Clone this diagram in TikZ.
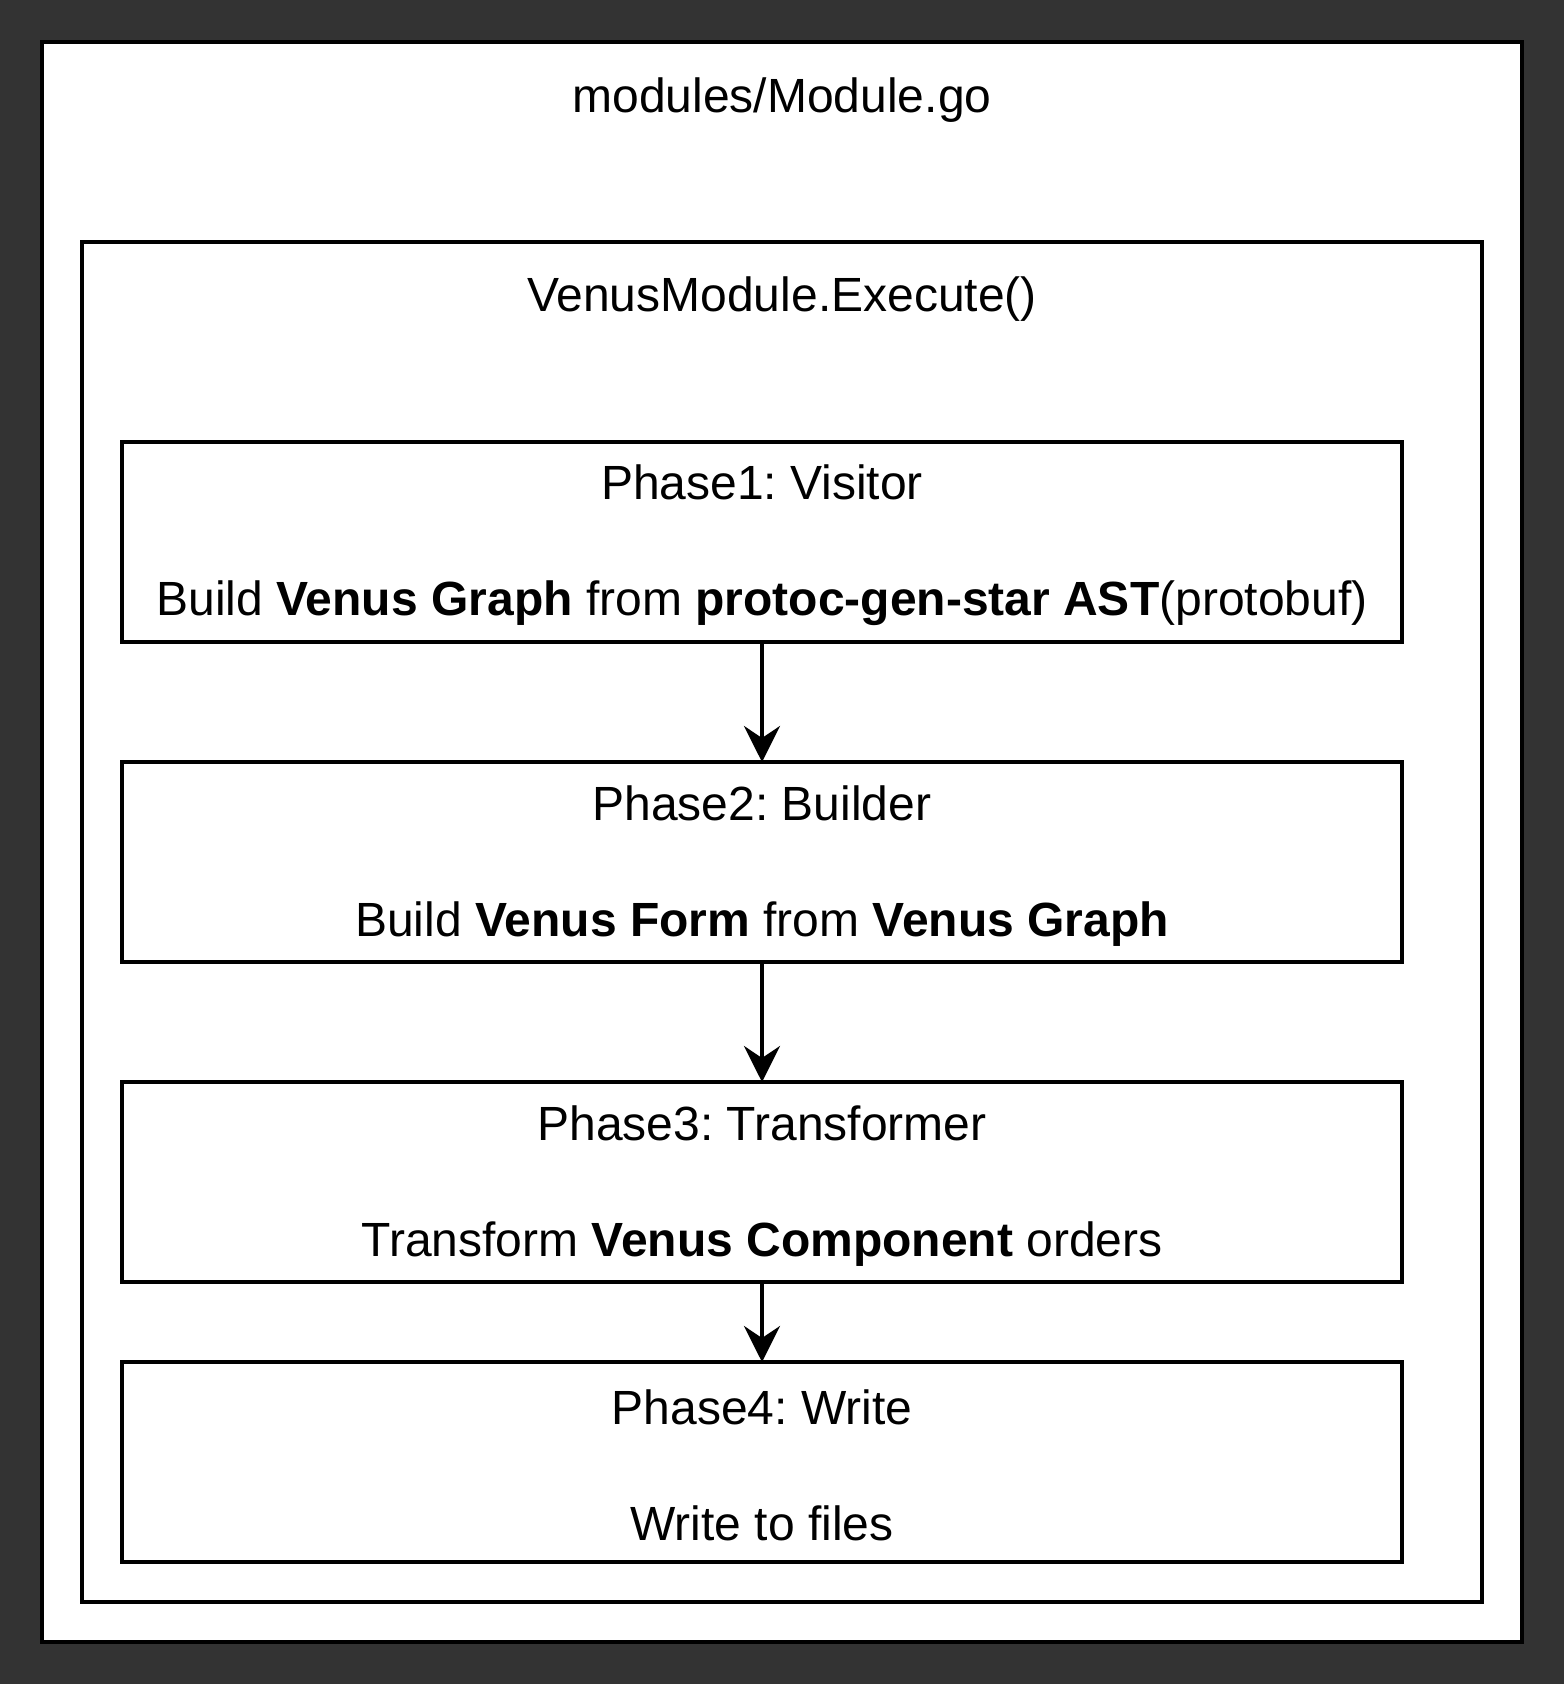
\documentclass[tikz,border=0pt]{standalone}
\usepackage{fontspec}
\setmainfont{Liberation Sans}
\usetikzlibrary{arrows.meta}
\definecolor{bgdark}{HTML}{333333}
\frenchspacing
\begin{document}
\begin{tikzpicture}[x=0.5pt,y=-0.5pt,
  frame/.style={draw=black, line width=2pt, fill=white, inner sep=0pt, outer sep=0pt},
  phasebox/.style={draw=black, line width=2pt, fill=white, minimum width=640pt, minimum height=100pt, inner sep=0pt, outer sep=0pt, align=center, font=\fontsize{24pt}{29pt}\selectfont},
  title/.style={anchor=base, font=\fontsize{24pt}{29pt}\selectfont, inner sep=0pt},
  flow/.style={line width=2pt, -{Stealth[length=18pt,width=18pt,inset=6pt]}}]
\useasboundingbox (0,0) rectangle (1564,1684);
\fill[bgdark] (0,0) rectangle (1564,1684);
\node[frame, minimum width=740pt, minimum height=800pt] (outer) at (782,842) {};
\node[title] (outertitle) at (782,113) {modules/Module.go};
\node[frame, minimum width=700pt, minimum height=680pt] (middle) at (782,922) {};
\node[title] (midtitle) at (782,312) {VenusModule.Execute()};
\node[phasebox] (p1) at (762,542) {\rule{0pt}{21pt}Phase1: Visitor\\[29pt]Build \textbf{Venus Graph} from \textbf{protoc-gen-star AST}(protobuf)};
\node[phasebox] (p2) at (762,862) {\rule{0pt}{21pt}Phase2: Builder\\[29pt]Build \textbf{Venus Form} from \textbf{Venus Graph}};
\node[phasebox] (p3) at (762,1182) {\rule{0pt}{21pt}Phase3: Transformer\\[29pt]Transform \textbf{Venus Component} orders};
\node[phasebox] (p4) at (762,1462) {\rule{0pt}{21pt}Phase4: Write\\[29pt]Write to files};
\draw[flow] (p1.south) -- (p2.north);
\draw[flow] (p2.south) -- (p3.north);
\draw[flow] (p3.south) -- (p4.north);
\end{tikzpicture}
\end{document}
